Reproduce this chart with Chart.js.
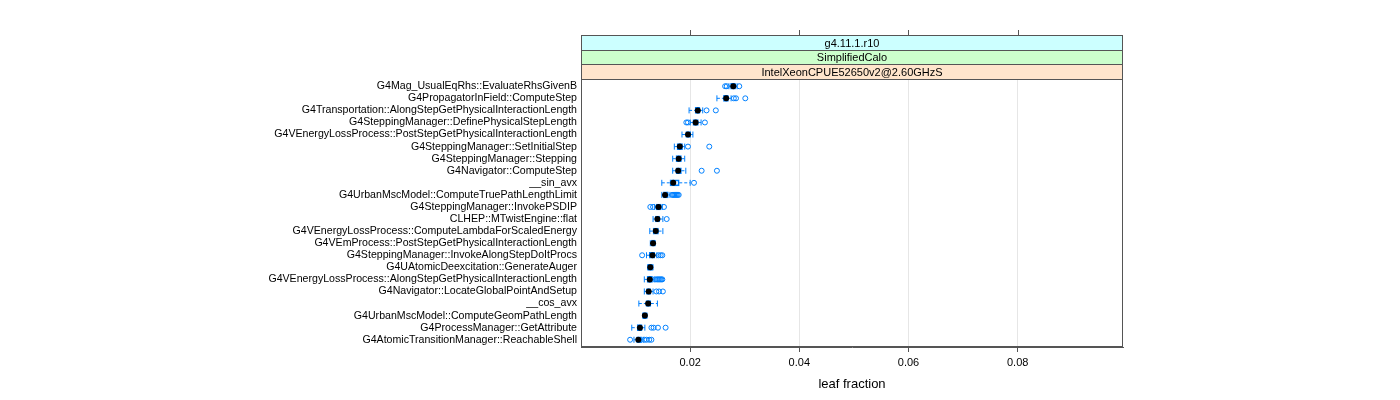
<!DOCTYPE html>
<html>
<head>
<meta charset="utf-8">
<script src="https://cdn.jsdelivr.net/npm/chart.js@4.4.1/dist/chart.umd.min.js"></script>
<style>
  html, body { margin: 0; padding: 0; background: #fff; }
  canvas { display: block; }
</style>
</head>
<body>
<canvas id="c" width="1400" height="400" style="width:1400px;height:400px"></canvas>
<script>
const categories = [
  "G4Mag_UsualEqRhs::EvaluateRhsGivenB",
  "G4PropagatorInField::ComputeStep",
  "G4Transportation::AlongStepGetPhysicalInteractionLength",
  "G4SteppingManager::DefinePhysicalStepLength",
  "G4VEnergyLossProcess::PostStepGetPhysicalInteractionLength",
  "G4SteppingManager::SetInitialStep",
  "G4SteppingManager::Stepping",
  "G4Navigator::ComputeStep",
  "__sin_avx",
  "G4UrbanMscModel::ComputeTruePathLengthLimit",
  "G4SteppingManager::InvokePSDIP",
  "CLHEP::MTwistEngine::flat",
  "G4VEnergyLossProcess::ComputeLambdaForScaledEnergy",
  "G4VEmProcess::PostStepGetPhysicalInteractionLength",
  "G4SteppingManager::InvokeAlongStepDoItProcs",
  "G4UAtomicDeexcitation::GenerateAuger",
  "G4VEnergyLossProcess::AlongStepGetPhysicalInteractionLength",
  "G4Navigator::LocateGlobalPointAndSetup",
  "__cos_avx",
  "G4UrbanMscModel::ComputeGeomPathLength",
  "G4ProcessManager::GetAttribute",
  "G4AtomicTransitionManager::ReachableShell"
];
const whiskerLow = [0.0271,0.0249,0.0198,0.0200,0.0185,0.0171,0.0168,0.0168,0.0148,0.0148,0.0135,0.0132,0.0126,0.0127,0.0120,0.0122,0.0116,0.0116,0.0106,0.0113,0.0093,0.0097];
const q1         = [0.0274,0.0261,0.0209,0.0205,0.0192,0.0176,0.0174,0.0174,0.0163,0.0151,0.0138,0.0136,0.0132,0.0129,0.0125,0.0123,0.0121,0.0120,0.0119,0.0114,0.0103,0.0102];
const median     = [0.0279,0.0266,0.0214,0.0210,0.0196,0.0181,0.0179,0.0178,0.0169,0.0154,0.0142,0.0140,0.0137,0.0132,0.0131,0.0127,0.0126,0.0124,0.0123,0.0117,0.0108,0.0105];
const q3         = [0.0283,0.0270,0.0218,0.0215,0.0201,0.0186,0.0184,0.0184,0.0180,0.0160,0.0147,0.0144,0.0142,0.0135,0.0135,0.0131,0.0131,0.0128,0.0128,0.0120,0.0112,0.0111];
const whiskerHigh= [0.0286,0.0275,0.0223,0.0220,0.0205,0.0190,0.0190,0.0192,0.0200,0.0163,0.0149,0.0150,0.0150,0.0136,0.0139,0.0132,0.0134,0.0132,0.0140,0.0121,0.0117,0.0114];
const outliers = [
  [0.0264,0.0267,0.0290],
  [0.0280,0.0284,0.0301],
  [0.0230,0.0247],
  [0.0193,0.0196,0.0227],
  [],
  [0.0196,0.0235],
  [],
  [0.0221,0.0249],
  [0.0207],
  [0.0167,0.0169,0.0171,0.0173,0.0175,0.0177,0.0179],
  [0.0127,0.0132,0.0152],
  [0.0157],
  [],
  [],
  [0.0112,0.0142,0.0146,0.0149],
  [],
  [0.0136,0.0139,0.0141,0.0143,0.0145,0.0147,0.0149],
  [0.0138,0.0143,0.0150],
  [],
  [],
  [0.0129,0.0133,0.0141,0.0155],
  [0.0090,0.0116,0.0120,0.0125,0.0129]
];
const xTicks = [0.02, 0.04, 0.06, 0.08];
const stripLabels = ["g4.11.1.r10", "SimplifiedCalo", "IntelXeonCPUE52650v2@2.60GHzS"];
const xAxisTitle = "leaf fraction";

const FONT = "'Liberation Sans', Arial, Helvetica, sans-serif";
const BLUE = "#0080ff";
const FRAME = "#555555";
const STRIP_COLORS = ["#ccffff", "#ccffcc", "#ffe5cc"];
const STRIP_TOP = 35;

Chart.defaults.font.family = FONT;

const boxData = categories.map((c, i) => ({ x: [q1[i], q3[i]], y: i }));
const medianData = categories.map((c, i) => ({ x: median[i], y: i }));
const whiskerData = [];
const capData = [];
categories.forEach((c, i) => {
  whiskerData.push({ x: whiskerLow[i], y: i }, { x: q1[i], y: i }, { x: null, y: i });
  whiskerData.push({ x: q3[i], y: i }, { x: whiskerHigh[i], y: i }, { x: null, y: i });
  capData.push({ x: whiskerLow[i], y: i }, { x: whiskerHigh[i], y: i });
});
const outlierData = [];
outliers.forEach((arr, i) => arr.forEach(v => outlierData.push({ x: v, y: i })));

const latticeFrame = {
  id: 'latticeFrame',
  afterDraw(chart) {
    const { ctx, chartArea: a, scales: { x } } = chart;
    ctx.save();
    const L = Math.round(a.left) + 0.5, R = Math.round(a.right) - 0.5;
    const T = Math.round(a.top) + 0.5, B = Math.round(a.bottom) - 0.5;
    const n = stripLabels.length;
    const h = (Math.round(a.top) - STRIP_TOP) / n;
    ctx.lineWidth = 1;
    for (let k = 0; k < n; k++) {
      const y0 = Math.round(STRIP_TOP + k * h);
      const y1 = Math.round(STRIP_TOP + (k + 1) * h);
      ctx.fillStyle = STRIP_COLORS[k];
      ctx.fillRect(L, y0, R - L, y1 - y0);
      ctx.strokeStyle = FRAME;
      ctx.strokeRect(L, y0 + 0.5, R - L, y1 - y0);
      ctx.fillStyle = '#000';
      ctx.font = '11px ' + FONT;
      ctx.textAlign = 'center';
      ctx.textBaseline = 'middle';
      ctx.fillText(stripLabels[k], (L + R) / 2, (y0 + y1) / 2 + 1);
    }
    ctx.strokeStyle = FRAME;
    ctx.strokeRect(L, T, R - L, B - T);
    ctx.beginPath();
    xTicks.forEach(v => {
      const px = Math.round(x.getPixelForValue(v)) + 0.5;
      ctx.moveTo(px, STRIP_TOP);
      ctx.lineTo(px, STRIP_TOP - 5);
    });
    ctx.stroke();
    ctx.restore();
  }
};

new Chart(document.getElementById('c'), {
  type: 'bar',
  data: {
    datasets: [
      {
        type: 'scatter', label: 'median', data: medianData, order: 0,
        pointStyle: 'circle', pointRadius: 3, pointBackgroundColor: '#000', pointBorderColor: '#000', pointBorderWidth: 0
      },
      {
        type: 'scatter', label: 'outliers', data: outlierData, order: 1,
        pointStyle: 'circle', pointRadius: 2.5, pointBackgroundColor: 'rgba(0,0,0,0)', pointBorderColor: BLUE, pointBorderWidth: 1
      },
      {
        type: 'bar', label: 'box', data: boxData, order: 2, indexAxis: 'y',
        barThickness: 6, borderColor: BLUE, borderWidth: 1, borderSkipped: false, backgroundColor: 'rgba(255,255,255,0)'
      },
      {
        type: 'scatter', label: 'caps', data: capData, order: 3,
        pointStyle: 'line', rotation: 90, pointRadius: 3, pointBorderColor: BLUE, pointBorderWidth: 1
      },
      {
        type: 'line', label: 'whiskers', data: whiskerData, order: 4,
        borderColor: BLUE, borderWidth: 1, borderDash: [3, 2], pointRadius: 0, spanGaps: false, fill: false
      }
    ]
  },
  options: {
    responsive: false,
    animation: false,
    devicePixelRatio: 1,
    indexAxis: 'y',
    layout: { padding: { left: 0, right: 277, top: 79, bottom: 0 } },
    plugins: { legend: { display: false }, tooltip: { enabled: false } },
    scales: {
      x: {
        type: 'linear', position: 'bottom', min: 0, max: 0.0993, offset: false,
        afterBuildTicks: axis => { axis.ticks = xTicks.map(v => ({ value: v })); },
        afterFit: axis => { axis.height = 53; },
        ticks: { callback: v => v.toFixed(2), color: '#000', font: { size: 11 }, padding: 4, maxRotation: 0, autoSkip: false },
        grid: { color: '#e6e6e6', tickColor: FRAME, tickLength: 5, drawOnChartArea: true, offset: false },
        border: { color: FRAME },
        title: { display: true, text: xAxisTitle, color: '#000', font: { size: 13 }, padding: { top: 0, bottom: 8 } }
      },
      y: {
        type: 'linear', position: 'left', reverse: true, offset: false,
        min: -0.6, max: categories.length - 0.4,
        afterBuildTicks: axis => { axis.ticks = categories.map((c, i) => ({ value: i })); },
        afterFit: axis => { axis.width = 581; },
        ticks: { callback: v => categories[v], color: '#000', font: { size: 10.6 }, padding: 4, autoSkip: false },
        grid: { display: false, drawTicks: false, tickLength: 0, offset: false },
        border: { color: FRAME }
      }
    }
  },
  plugins: [latticeFrame]
});
</script>
</body>
</html>
